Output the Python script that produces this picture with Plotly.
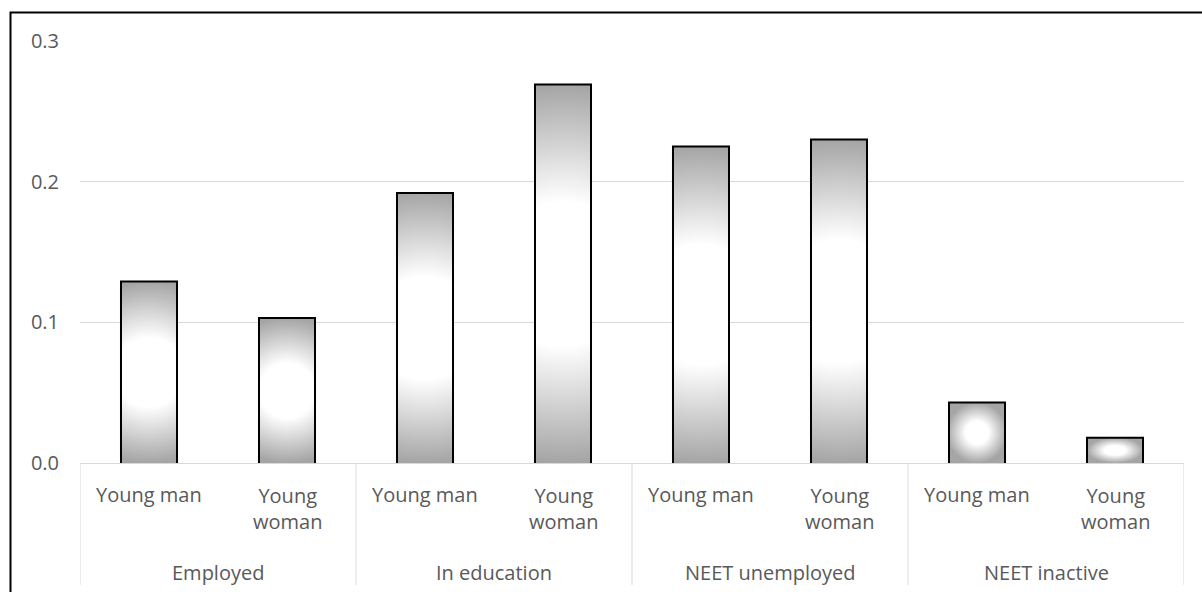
import plotly.graph_objects as go

# Share of young people by activity status and sex
groups = ["Employed", "In education", "NEET unemployed", "NEET inactive"]
sex_labels = ["Young man", "Young<br>woman"]
young_man = [0.129, 0.192, 0.225, 0.043]
young_woman = [0.103, 0.269, 0.230, 0.018]
y_tick_values = [0.0, 0.1, 0.2, 0.3]

# Page and plot-area geometry (pixels)
W, H = 1202, 592
ML, MR, MT, MB = 80, 18, 41, 129
PW, PH = W - ML - MR, H - MT - MB
N_CAT = len(groups) * len(sex_labels)
X_RANGE = [-0.5, N_CAT - 0.5]
Y_RANGE = [0, 0.3]
PX_PER_X = PW / (X_RANGE[1] - X_RANGE[0])
PX_PER_Y = PH / (Y_RANGE[1] - Y_RANGE[0])
BAR_W = 0.406

TEXT = "#595959"
GRID = "#d9d9d9"
FONT = "Open Sans"
GRADIENT = [[0.0, "#ffffff"], [0.38, "#ffffff"], [1.0, "#a5a5a5"]]


def px_to_paper_y(py):
    return (H - MB - py) / PH


def px_to_paper_x(px):
    return (px - ML) / PW


fig = go.Figure()

values = []
for gi in range(len(groups)):
    values.append(young_man[gi])
    values.append(young_woman[gi])

for i, v in enumerate(values):
    x0, x1 = i - BAR_W / 2, i + BAR_W / 2
    w_px, h_px = BAR_W * PX_PER_X, v * PX_PER_Y
    fx = [x0, x0, x1, x1]
    fy = [0, v, v, 0]
    if h_px > w_px:
        # widen the fill's bounding box along the baseline so the radial
        # gradient stays circular on tall bars
        half = (h_px / 2) / PX_PER_X
        fx += [i + half, i - half]
        fy += [0, 0]
    fig.add_trace(go.Scatter(
        x=fx, y=fy, mode="lines", fill="toself",
        fillgradient=dict(type="radial", colorscale=GRADIENT),
        line=dict(width=0, color="rgba(0,0,0,0)", simplify=False),
        hoverinfo="skip", showlegend=False,
    ))
    fig.add_trace(go.Scatter(
        x=[x0, x0, x1, x1], y=[0, v, v, 0], mode="lines",
        line=dict(color="#000000", width=2),
        hoverinfo="skip", showlegend=False,
    ))

annotations = []
for gi, g in enumerate(groups):
    for si, s in enumerate(sex_labels):
        xi = gi * len(sex_labels) + si
        annotations.append(dict(
            x=xi, xref="x", y=px_to_paper_y(495 if si == 0 else 509), yref="paper",
            text=s, showarrow=False, xanchor="center", yanchor="middle",
            align="center", font=dict(family=FONT, size=20, color=TEXT),
        ))
    annotations.append(dict(
        x=gi * len(sex_labels) + 0.5, xref="x", y=px_to_paper_y(572), yref="paper",
        text=g, showarrow=False, xanchor="center", yanchor="middle",
        font=dict(family=FONT, size=20, color=TEXT),
    ))

shapes = []
for gi in range(len(groups) + 1):
    xd = gi * len(sex_labels) - 0.5
    shapes.append(dict(
        type="line", xref="x", yref="paper", x0=xd, x1=xd,
        y0=0, y1=px_to_paper_y(585), line=dict(color=GRID, width=1),
    ))
# outer frame
shapes.append(dict(
    type="rect", xref="paper", yref="paper",
    x0=px_to_paper_x(10.5), x1=px_to_paper_x(W + 20),
    y0=px_to_paper_y(H + 20), y1=px_to_paper_y(12.5),
    line=dict(color="#000000", width=2), fillcolor="rgba(0,0,0,0)", layer="above",
))

fig.update_layout(
    width=W, height=H,
    margin=dict(l=ML, r=MR, t=MT, b=MB, pad=0),
    paper_bgcolor="#ffffff", plot_bgcolor="#ffffff",
    font=dict(family=FONT, size=20, color=TEXT),
    showlegend=False,
    annotations=annotations,
    shapes=shapes,
    hovermode=False,
)
fig.update_xaxes(
    range=X_RANGE, showgrid=False, zeroline=False, showticklabels=False,
    showline=True, linecolor=GRID, linewidth=1, ticks="", fixedrange=True,
)
fig.update_yaxes(
    range=Y_RANGE, tickvals=y_tick_values, tickformat=".1f",
    showgrid=True, gridcolor=GRID, gridwidth=1, zeroline=False,
    showline=False, ticks="", ticklabelstandoff=20,
    tickfont=dict(family=FONT, size=20, color=TEXT), fixedrange=True,
)

fig.write_html("out.html")
